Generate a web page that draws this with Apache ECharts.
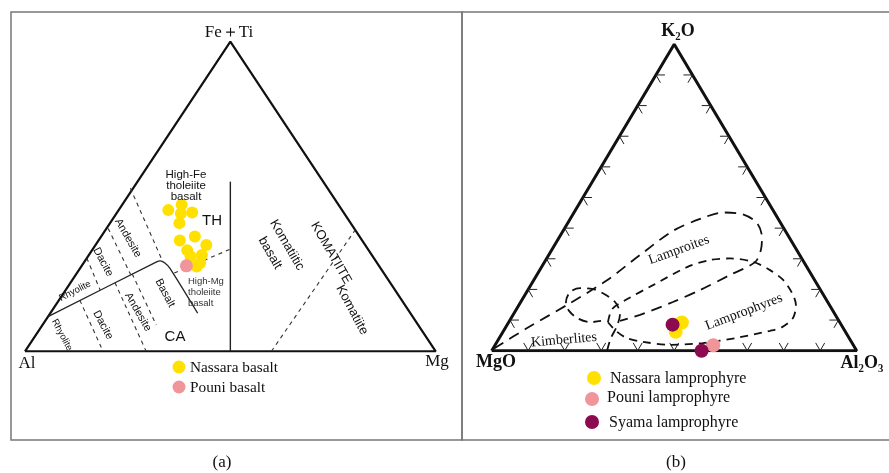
<!DOCTYPE html>
<html>
<head>
<meta charset="utf-8">
<script src="https://cdn.jsdelivr.net/npm/echarts@6/dist/echarts.min.js"></script>
<style>
html,body{margin:0;padding:0;background:#fff;}
#chart{width:889px;height:473px;}
</style>
</head>
<body>
<div id="chart"></div>
<script>
// ---- (a) Jensen cation plot: [Al, Fe+Ti, Mg] in % ----
const nassaraBasalt = [
  [42.3,45.6,12.1],[38.2,47.3,14.5],[39.8,44.5,15.7],[36.9,44.8,18.3],
  [41.7,41.4,16.9],[40.1,37.1,22.8],[44.4,35.8,19.8],[38.7,34.3,27.0],
  [44.2,32.6,23.2],[44.4,30.6,25.0],[41.4,31.1,27.5],[43.1,28.5,28.4],
  [44.5,27.4,28.1]
];
const pouniBasalt = [[46.9,27.6,25.5]];

// field boundaries of the Jensen plot, [Al, Fe+Ti, Mg]
const thCaBoundary = [[88.8,11.2,0],[53.5,28.9,17.6],[52.5,29.2,18.3],[51.7,28.5,19.8],[51.3,26.8,21.9],[51.8,12.3,35.9]];
const highMgBoundary = [[51.0,25.3,23.7],[33.5,33.0,33.5]];
const komatiiteDivide = [[50,0,50],[22.6,54.8,22.6]];
const komatiiteBasaltDivide = [[40,0,60],[0,39.2,60.8]];
const thDivides = [
  [[69.9,30.1,0],[71.8,19.8,8.4]],
  [[59.9,39.7,0.4],[61.9,24.7,13.4]],
  [[48.0,52.7,-0.7],[52.0,28.8,19.2]]
];
const caDivides = [
  [[78.4,16.5,5.1],[81.0,0,19.0]],
  [[67.0,22.2,10.8],[70.5,0,29.5]],
  [[61.4,25.0,13.6],[63.8,8.5,27.7]]
];

// ---- (b) K2O-MgO-Al2O3: [MgO, Al2O3, K2O] in % ----
const nassaraLamprophyre = [[43.3,47.5,9.2],[46.5,47.3,6.2]];
const pouniLamprophyre = [[38.4,59.8,1.8]];
const syamaLamprophyre = [[46.2,45.3,8.5],[42.5,57.5,0]];
const tickPercents = [10,20,30,40,50,60,70,80,90];

// field outlines [MgO, Al2O3, K2O]
const lamproiteField = [
  [99.0,0.3,0.7],[86.6,6.0,7.4],[70.8,13.7,15.5],[56.9,20.1,23.0],[43.8,25.0,31.2],
  [30.8,30.1,39.1],[21.4,35.6,43.0],[14.1,40.8,45.1],[8.9,46.6,44.5],[6.5,51.8,41.7],
  [7.4,55.5,37.1],[9.8,57.3,32.9],[13.4,57.7,28.9],[22.4,52.9,24.7],[33.0,47.2,19.8],
  [42.4,41.7,15.9],[53.5,34.8,11.7],[60.0,30.3,9.7]
];
const lamprophyreField = [
  [63.5,27.2,9.3],[60.2,26.2,13.6],[54.9,28.5,16.6],[45.1,33.5,21.4],[32.8,39.9,27.3],
  [25.4,45.0,29.6],[19.7,50.2,30.1],[13.9,57.1,29.0],[10.6,63.1,26.3],[8.6,68.3,23.1],
  [8.3,72.9,18.8],[9.2,75.9,14.9],[12.1,77.2,10.7],[16.6,75.7,7.7],[20.5,73.0,6.5],
  [30.7,65.1,4.2],[40.9,56.6,2.5],[50.2,47.9,1.9],[57.1,40.0,2.9],[60.9,35.0,4.1],
  [62.7,30.9,6.4]
];
const kimberliteField = [
  [68.4,31.6,0],[65.3,30.6,4.1],[61.6,30.3,8.1],[58.9,29.2,11.9],[58.2,26.3,15.5],
  [59.6,22.2,18.2],[62.2,17.7,20.1],[65.6,14.0,20.4],[69.0,11.9,19.1],[71.7,12.4,15.9],
  [72.3,14.7,13.0],[71.1,18.4,10.5],[68.4,22.3,9.3],[65.2,25.1,9.7]
];

// ---- layout ----
const A = {left:25, top:41.7, width:410.7, height:309.6};
const B = {left:491.7, top:44.3, width:365, height:306.4};

// [Al, FeTi, Mg] -> [position along base, height]
function jensenXY(p){ const s=p[0]+p[1]+p[2]; const f=p[1]/s, m=p[2]/s; return [m+f/2, f]; }
// [MgO, Al2O3, K2O] -> [position along base, height]
function kmaXY(p){ const s=p[0]+p[1]+p[2]; const k=p[2]/s, a=p[1]/s; return [a+k/2, k]; }

function lineSeries(gi, pts, style, smooth, closed){
  const data = pts.slice();
  if(closed) data.push(pts[0]);
  return {type:'line', xAxisIndex:gi, yAxisIndex:gi, data:data, symbol:'none',
    smooth: smooth||false, silent:true, animation:false, lineStyle:style, z:3};
}

const series = [];
series.push(lineSeries(0, [[0,0],[1,0],[0.5,1],[0,0]], {color:'#111', width:2.2}));
series.push(lineSeries(1, [[0,0],[1,0],[0.5,1],[0,0]], {color:'#111', width:3}));

// (a) field lines
const dash = {color:'#333', width:1.1, type:[4,4]};
series.push(lineSeries(0, thCaBoundary.map(jensenXY), {color:'#222', width:1.3}, 0.25));
series.push(lineSeries(0, komatiiteDivide.map(jensenXY), {color:'#222', width:1.4}));
series.push(lineSeries(0, highMgBoundary.map(jensenXY), dash));
series.push(lineSeries(0, komatiiteBasaltDivide.map(jensenXY), dash));
thDivides.concat(caDivides).forEach(l=>series.push(lineSeries(0, l.map(jensenXY), dash)));

// (b) ticks: two short arms from each tick point, parallel to the other two edges
const armX = 9/B.width, armY = 9*0.866/B.height;
tickPercents.forEach(tp=>{
  const f=tp/100;
  series.push(lineSeries(1, [[f-armX/2, armY],[f,0],[f+armX/2, armY]], {color:'#222', width:1}));
  series.push(lineSeries(1, [[f/2+armX, f],[f/2,f],[f/2+armX/2, f-armY]], {color:'#222', width:1}));
  series.push(lineSeries(1, [[1-f/2-armX, f],[1-f/2,f],[1-f/2-armX/2, f-armY]], {color:'#222', width:1}));
});

series.push(lineSeries(1, lamproiteField.map(kmaXY), {color:'#111', width:1.8, type:[11,7]}, 0.3));
series.push(lineSeries(1, lamprophyreField.map(kmaXY), {color:'#111', width:1.8, type:[8,6]}, 0.3, true));
series.push(lineSeries(1, kimberliteField.map(kmaXY), {color:'#111', width:1.8, type:[9,6]}, 0.3));

function scatter(gi, data, color, size, z){
  return {type:'scatter', xAxisIndex:gi, yAxisIndex:gi, data:data, symbol:'circle',
    symbolSize:size, itemStyle:{color:color, opacity:1}, silent:true, animation:false, z:z};
}
series.push(scatter(0, nassaraBasalt.map(jensenXY), '#FFE000', 12, 5));
series.push(scatter(0, pouniBasalt.map(jensenXY), '#F0959A', 13, 6));
series.push(scatter(1, nassaraLamprophyre.map(kmaXY), '#FFE000', 14, 5));
series.push(scatter(1, pouniLamprophyre.map(kmaXY), '#F0959A', 14, 6));
series.push(scatter(1, syamaLamprophyre.map(kmaXY), '#8B0A50', 14, 7));

const serif = '"Liberation Serif","Times New Roman",serif';
const sans = '"Liberation Sans",Arial,sans-serif';
function t(x,y,text,font,size,opt){
  opt=opt||{};
  return {type:'text', x:x, y:y, rotation:opt.rot||0, z:10, silent:true,
    style:{text:text, font:(opt.bold?'bold ':'')+size+'px '+font, fill:opt.color||'#111',
      textAlign:opt.align||'center', textVerticalAlign:'middle', lineHeight:opt.lh||size}};
}
const deg = Math.PI/180;
const graphic = [
  {type:'rect', shape:{x:11,y:12,width:451,height:428}, style:{fill:'none', stroke:'#777', lineWidth:1.5}, silent:true},
  {type:'rect', shape:{x:462,y:12,width:440,height:428}, style:{fill:'none', stroke:'#777', lineWidth:1.5}, silent:true},
  t(229,33,'Fe＋Ti',serif,17),
  t(27,364,'Al',serif,17),
  t(437,362,'Mg',serif,17),
  t(186,186,'High-Fe\ntholeiite\nbasalt',sans,11.5,{lh:11}),
  t(212,221,'TH',sans,15),
  t(188,292,'High-Mg\ntholeiite\nbasalt',sans,9.5,{align:'left',lh:11,color:'#333'}),
  t(175,337,'CA',sans,15),
  t(75,291,'Rhyolite',sans,9.5,{rot:27*deg}),
  t(62,335,'Rhyolite',sans,9.5,{rot:-62*deg}),
  t(103,262,'Dacite',sans,11,{rot:-62*deg}),
  t(103,325,'Dacite',sans,11,{rot:-62*deg}),
  t(128,238,'Andesite',sans,11,{rot:-60*deg}),
  t(138,312,'Andesite',sans,11,{rot:-60*deg}),
  t(165,293,'Basalt',sans,11,{rot:-62*deg}),
  t(287,245,'Komatiitic',sans,13,{rot:-60*deg}),
  t(270,253,'basalt',sans,13,{rot:-60*deg}),
  t(331,253,'KOMATIITE',sans,13,{rot:-60*deg}),
  t(352,310,'Komatiite',sans,13,{rot:-62*deg}),
  {type:'circle', shape:{cx:179,cy:367,r:6.5}, style:{fill:'#FFE000'}, silent:true},
  t(190,368,'Nassara basalt',serif,15.3,{align:'left'}),
  {type:'circle', shape:{cx:179,cy:387,r:6.5}, style:{fill:'#F0959A'}, silent:true},
  t(190,388,'Pouni basalt',serif,15.3,{align:'left'}),
  t(678,31,'K₂O',serif,18,{bold:true}),
  t(496,362,'MgO',serif,18,{bold:true}),
  t(862,363,'Al₂O₃',serif,18,{bold:true}),
  t(679,250,'Lamproites',serif,14,{rot:20*deg}),
  t(744,312,'Lamprophyres',serif,14,{rot:21*deg}),
  t(564,340,'Kimberlites',serif,14,{rot:5*deg}),
  {type:'circle', shape:{cx:594,cy:378,r:7}, style:{fill:'#FFE000'}, silent:true},
  t(610,379,'Nassara lamprophyre',serif,16,{align:'left'}),
  {type:'circle', shape:{cx:592,cy:399,r:7}, style:{fill:'#F0959A'}, silent:true},
  t(607,398,'Pouni lamprophyre',serif,16,{align:'left'}),
  {type:'circle', shape:{cx:592,cy:422,r:7}, style:{fill:'#8B0A50'}, silent:true},
  t(609,423,'Syama lamprophyre',serif,16,{align:'left'}),
  t(222,463,'(a)',serif,17),
  t(676,463,'(b)',serif,17)
];

function axisPair(i){
  return {
    x:{type:'value', gridIndex:i, min:0, max:1, show:false},
    y:{type:'value', gridIndex:i, min:0, max:1, show:false}
  };
}
const ax=[axisPair(0),axisPair(1)];
const chart = echarts.init(document.getElementById('chart'), null, {renderer:'canvas'});
chart.setOption({
  animation:false,
  backgroundColor:'#fff',
  grid:[
    {left:A.left, top:A.top, width:A.width, height:A.height},
    {left:B.left, top:B.top, width:B.width, height:B.height}
  ],
  xAxis:ax.map(a=>a.x),
  yAxis:ax.map(a=>a.y),
  series:series,
  graphic:graphic
});
</script>
</body>
</html>
